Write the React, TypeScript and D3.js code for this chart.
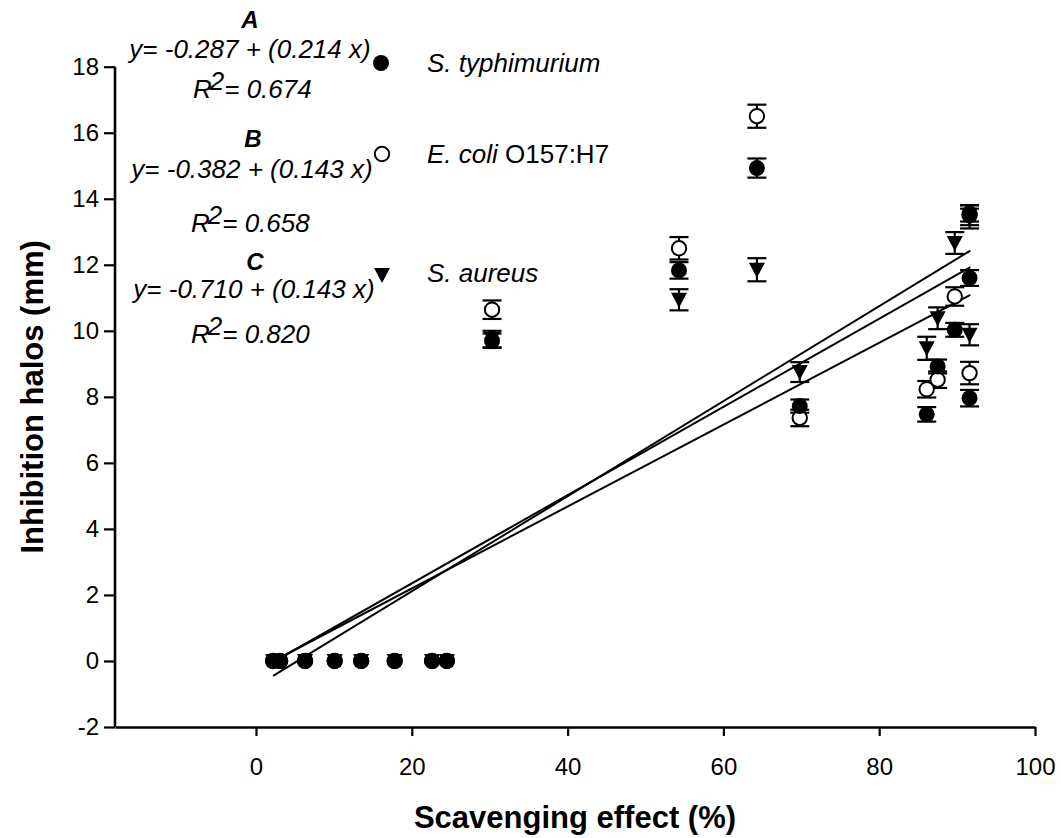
import { useEffect, useRef } from "react";
import * as d3 from "d3";

// scavenging effect (%) for each sample, per bacteria
const typhiX = [2.2, 3.1, 6.3, 10.1, 13.5, 17.8, 22.6, 24.5, 30.3, 54.3, 64.3, 69.8, 86.1, 87.5, 89.7, 91.6, 91.6, 91.6];
const typhiY = [0, 0, 0, 0, 0, 0, 0, 0, 9.7, 11.83, 14.93, 7.72, 7.47, 8.92, 10.03, 13.56, 11.6, 7.96];
const typhiErr = [0, 0, 0, 0, 0, 0, 0, 0, 0.22, 0.25, 0.29, 0.2, 0.22, 0.21, 0.21, 0.25, 0.24, 0.25];

const coliX = [2.2, 3.1, 6.3, 10.1, 13.5, 17.8, 22.6, 24.5, 30.3, 54.3, 64.3, 69.8, 86.1, 87.5, 89.7, 91.6, 91.6];
const coliY = [0, 0, 0, 0, 0, 0, 0, 0, 10.64, 12.5, 16.5, 7.36, 8.23, 8.52, 11.04, 8.72, 13.5];
const coliErr = [0, 0, 0, 0, 0, 0, 0, 0, 0.28, 0.34, 0.35, 0.25, 0.25, 0.25, 0.28, 0.34, 0.3];

const aureusX = [2.2, 3.1, 6.3, 10.1, 13.5, 17.8, 22.6, 24.5, 30.3, 54.3, 64.3, 69.8, 86.1, 87.5, 89.7, 91.6, 91.6];
const aureusY = [0, 0, 0, 0, 0, 0, 0, 0, 9.75, 10.94, 11.85, 8.75, 9.47, 10.38, 12.66, 9.88, 13.4];
const aureusErr = [0, 0, 0, 0, 0, 0, 0, 0, 0.25, 0.32, 0.35, 0.3, 0.35, 0.33, 0.33, 0.32, 0.3];

// fitted regression lines (start / end)
const fitX0 = [2.2, 3.0, 3.0];
const fitY0 = [-0.45, 0.08, 0.09];
const fitX1 = [91.7, 91.7, 91.7];
const fitY1 = [12.43, 11.93, 11.09];

const xTicks = [0, 20, 40, 60, 80, 100];
const yTicks = [-2, 0, 2, 4, 6, 8, 10, 12, 14, 16, 18];

const panelLetters = ["A", "B", "C"];
const equations = ["y= -0.287 + (0.214 x)", "y= -0.382 + (0.143 x)", "y= -0.710 + (0.143 x)"];
const r2Values = ["0.674", "0.658", "0.820"];

const FONT = "'Liberation Sans', Arial, Helvetica, sans-serif";

export default function App() {
  const ref = useRef<SVGSVGElement>(null);

  useEffect(() => {
    document.body.style.margin = "0";
    const svg = d3.select(ref.current);
    svg.selectAll("*").remove();

    const x = d3.scaleLinear([-18.1, 100], [115, 1035]);
    const y = d3.scaleLinear([-2, 18], [727, 66.7]);

    // axes
    const yAxis = svg.append("g").attr("transform", `translate(${x(-18.1)},0)`)
      .call(d3.axisLeft(y).tickValues(yTicks).tickSize(11).tickSizeOuter(0).tickPadding(5)
        .tickFormat((d) => String(d)));
    const xAxis = svg.append("g").attr("transform", `translate(0,${y(-2)})`)
      .call(d3.axisBottom(x).tickValues(xTicks).tickSize(9).tickSizeOuter(0).tickPadding(22)
        .tickFormat((d) => String(d)));
    [xAxis, yAxis].forEach(g => {
      g.select(".domain").attr("stroke-width", 2.6);
      g.selectAll(".tick line").attr("stroke-width", 2.2);
      g.selectAll(".tick text").attr("font-size", 24).attr("font-family", FONT).attr("fill", "#000");
    });
    yAxis.select(".domain").attr("d", `M0,${y(-2)}V${y(18)}`);

    svg.append("text")
      .attr("x", x(-18.1) + (x(100) - x(-18.1)) / 2)
      .attr("y", 828)
      .attr("text-anchor", "middle")
      .attr("font-family", FONT).attr("font-weight", "bold").attr("font-size", 31)
      .text("Scavenging effect (%)");
    svg.append("text")
      .attr("transform", `translate(43,${(y(-2) + y(18)) / 2}) rotate(-90)`)
      .attr("text-anchor", "middle")
      .attr("font-family", FONT).attr("font-weight", "bold").attr("font-size", 31)
      .text("Inhibition halos (mm)");

    // regression lines
    svg.append("g").selectAll("line").data(fitX0).join("line")
      .attr("x1", (d) => x(d)).attr("y1", (_, i) => y(fitY0[i]))
      .attr("x2", (_, i) => x(fitX1[i])).attr("y2", (_, i) => y(fitY1[i]))
      .attr("stroke", "#000").attr("stroke-width", 2);

    const capW = 9.5;
    const errorBars = (xs: number[], ys: number[], es: number[]) => {
      const g = svg.append("g").attr("stroke", "#000").attr("stroke-width", 2.2);
      xs.forEach((xv, i) => {
        if (es[i] === 0) return;
        const cx = x(xv);
        const top = y(ys[i] + es[i]);
        const bot = y(ys[i] - es[i]);
        g.append("line").attr("x1", cx).attr("x2", cx).attr("y1", top).attr("y2", bot);
        g.append("line").attr("x1", cx - capW).attr("x2", cx + capW).attr("y1", top).attr("y2", top);
        g.append("line").attr("x1", cx - capW).attr("x2", cx + capW).attr("y1", bot).attr("y2", bot);
      });
    };

    const triPath = (cx: number, cy: number) => `M${cx - 8},${cy - 7}L${cx + 8},${cy - 7}L${cx},${cy + 8}Z`;

    errorBars(coliX, coliY, coliErr);
    errorBars(typhiX, typhiY, typhiErr);
    errorBars(aureusX, aureusY, aureusErr);

    svg.append("g").selectAll("circle").data(coliX).join("circle")
      .attr("cx", (d) => x(d)).attr("cy", (_, i) => y(coliY[i])).attr("r", 7.2)
      .attr("fill", "#fff").attr("stroke", "#000").attr("stroke-width", 2);
    svg.append("g").selectAll("circle").data(typhiX).join("circle")
      .attr("cx", (d) => x(d)).attr("cy", (_, i) => y(typhiY[i])).attr("r", 8)
      .attr("fill", "#000");
    svg.append("g").selectAll("path").data(aureusX).join("path")
      .attr("d", (d, i) => triPath(x(d), y(aureusY[i])))
      .attr("fill", "#000");

    // legend
    const lg = svg.append("g").attr("font-family", FONT).attr("font-size", 26).attr("font-style", "italic");
    lg.append("circle").attr("cx", 381).attr("cy", 63).attr("r", 8).attr("fill", "#000");
    lg.append("circle").attr("cx", 382).attr("cy", 154).attr("r", 7.2)
      .attr("fill", "#fff").attr("stroke", "#000").attr("stroke-width", 2);
    lg.append("path").attr("d", triPath(382, 275)).attr("fill", "#000");
    lg.append("text").attr("x", 427).attr("y", 72).text("S. typhimurium");
    const ec = lg.append("text").attr("x", 427).attr("y", 163);
    ec.append("tspan").text("E. coli");
    ec.append("tspan").attr("font-style", "normal").text(" O157:H7");
    lg.append("text").attr("x", 427).attr("y", 282).text("S. aureus");

    // equations
    const letterPos = [[250, 28], [253, 147], [255, 270]];
    const eqPos = [[250, 58], [252, 178], [254, 298]];
    const r2Pos = [[193, 98], [191, 232], [191, 343]];
    const ann = svg.append("g").attr("font-family", FONT).attr("font-size", 26).attr("font-style", "italic");
    panelLetters.forEach((l, i) => {
      ann.append("text").attr("x", letterPos[i][0]).attr("y", letterPos[i][1])
        .attr("text-anchor", "middle").attr("font-weight", "bold").attr("font-size", 24).text(l);
      ann.append("text").attr("x", eqPos[i][0]).attr("y", eqPos[i][1])
        .attr("text-anchor", "middle").text(equations[i]);
      const t = ann.append("text").attr("x", r2Pos[i][0]).attr("y", r2Pos[i][1]);
      t.append("tspan").text("R");
      t.append("tspan").attr("dx", -2).attr("dy", -8).text("2");
      t.append("tspan").attr("dy", 8).text("= " + r2Values[i]);
    });
  }, []);

  return (
    <svg ref={ref} width={1061} height={838} style={{ position: "absolute", left: 0, top: 0, background: "#fff" }} />
  );
}
